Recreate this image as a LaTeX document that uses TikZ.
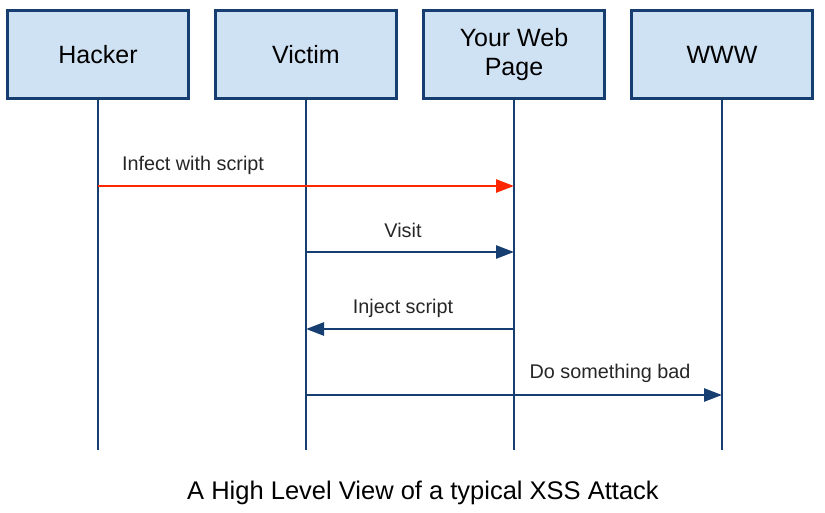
\documentclass[tikz,border=0pt]{standalone}
\usepackage{fontspec}
\setmainfont{Liberation Sans}
\usetikzlibrary{arrows.meta}
\definecolor{boxfill}{RGB}{207,226,243}
\definecolor{navy}{RGB}{22,62,112}
\definecolor{redline}{RGB}{255,38,0}
\begin{document}
\begin{tikzpicture}[x=1pt,y=-1pt,
  actor/.style={draw=navy,fill=boxfill,line width=2.6pt,minimum width=181pt,minimum height=88pt,inner sep=0pt,align=center,font=\fontsize{25}{29}\selectfont},
  life/.style={draw=navy,line width=2.6pt},
  msg/.style={line width=2.6pt,-{Triangle[length=18pt,width=13pt]}},
  lbl/.style={font=\fontsize{19.8}{23}\selectfont,inner sep=0pt,text=black!85},
  ttl/.style={font=\fontsize{25.5}{30}\selectfont,inner sep=0pt}]
\useasboundingbox (0,0) rectangle (825,512);
\fill[white] (0,0) rectangle (825,512);
\node[actor] (hacker) at (98,54.5) {Hacker};
\node[actor] (victim) at (306,54.5) {Victim};
\node[actor] (web) at (514,54.5) {Your Web\\Page};
\node[actor] (www) at (722,54.5) {WWW};
\coordinate (hackerEnd) at (98,450);
\coordinate (victimEnd) at (306,450);
\coordinate (webEnd) at (514,450);
\coordinate (wwwEnd) at (722,450);
\draw[life] (hacker.south) -- (hackerEnd);
\draw[life] (victim.south) -- (victimEnd);
\draw[life] (web.south) -- (webEnd);
\draw[life] (www.south) -- (wwwEnd);
\coordinate (h1) at (98,186);
\coordinate (w1) at (514,186);
\coordinate (v2) at (306,252);
\coordinate (w2) at (514,252);
\coordinate (w3) at (514,329);
\coordinate (v3) at (306,329);
\coordinate (v4) at (306,395);
\coordinate (x4) at (722,395);
\draw[msg,draw=redline,fill=redline] (h1) -- (w1);
\draw[msg,draw=navy,fill=navy] (v2) -- (w2);
\draw[msg,draw=navy,fill=navy] (w3) -- (v3);
\draw[msg,draw=navy,fill=navy] (v4) -- (x4);
\node[lbl] (l1) at (193,165) {Infect with script};
\node[lbl] (l2) at (403,230) {Visit};
\node[lbl] (l3) at (403,308) {Inject script};
\node[lbl] (l4) at (610,373) {Do something bad};
\node[ttl] (title) at (423,493) {A High Level View of a typical XSS Attack};
\end{tikzpicture}
\end{document}
